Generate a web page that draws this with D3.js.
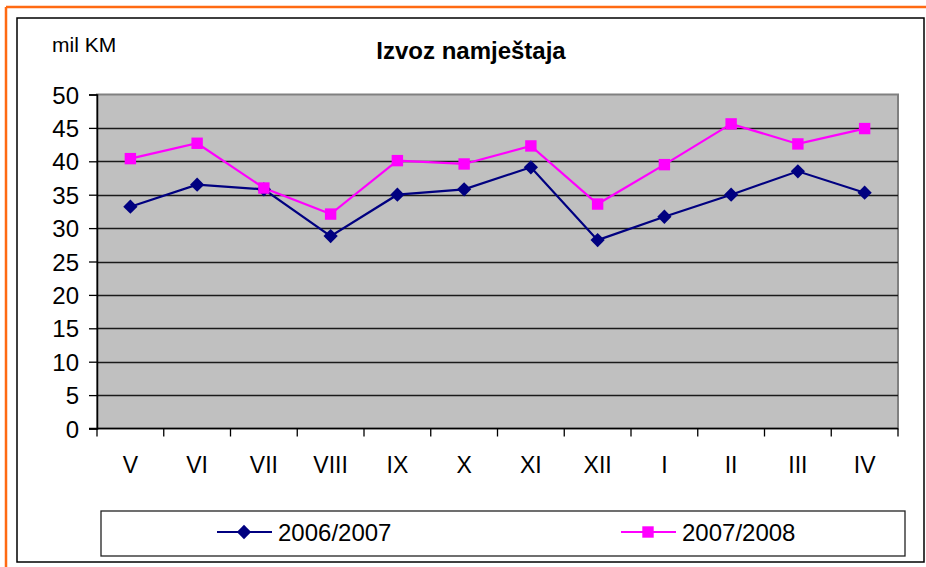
<!DOCTYPE html>
<html>
<head>
<meta charset="utf-8">
<script src="https://cdn.jsdelivr.net/npm/d3@7"></script>
<style>
  html, body { margin: 0; padding: 0; background: #fff; }
  svg { display: block; }
  text { font-family: "Liberation Sans", Arial, sans-serif; fill: #000; }
</style>
</head>
<body>
<svg id="chart" width="926" height="567"></svg>
<script>
const months = ["V", "VI", "VII", "VIII", "IX", "X", "XI", "XII", "I", "II", "III", "IV"];
const series2006 = [33.2, 36.5, 35.8, 28.8, 35.0, 35.8, 39.1, 28.2, 31.7, 35.0, 38.5, 35.3];
const series2007 = [40.4, 42.7, 36.0, 32.1, 40.1, 39.6, 42.3, 33.6, 39.5, 45.6, 42.6, 44.9];
const seriesNames = ["2006/2007", "2007/2008"];
const yTicks = [0, 5, 10, 15, 20, 25, 30, 35, 40, 45, 50];
const titleText = "Izvoz namještaja";
const unitText = "mil KM";

const svg = d3.select("#chart");

// orange outer frame (top and left visible)
svg.append("line").attr("x1", 6).attr("x2", 926).attr("y1", 7).attr("y2", 7)
  .attr("stroke", "#FF6A13").attr("stroke-width", 2.5);
svg.append("line").attr("x1", 6).attr("x2", 6).attr("y1", 7).attr("y2", 567)
  .attr("stroke", "#FF6A13").attr("stroke-width", 2.5);

// chart frame
svg.append("rect").attr("x", 17).attr("y", 18).attr("width", 907).attr("height", 544)
  .attr("fill", "#fff").attr("stroke", "#000").attr("stroke-width", 1.5);

const plot = { left: 97, right: 898, top: 94.5, bottom: 428.5 };

const x = d3.scaleBand().domain(months).range([plot.left, plot.right]).paddingInner(0).paddingOuter(0);
const y = d3.scaleLinear().domain([0, 50]).range([plot.bottom, plot.top]);

// plot background
svg.append("rect").attr("x", plot.left).attr("y", plot.top)
  .attr("width", plot.right - plot.left).attr("height", plot.bottom - plot.top)
  .attr("fill", "#C0C0C0").attr("stroke", "#808080").attr("stroke-width", 2);

// gridlines
svg.append("g").selectAll("line").data(yTicks.filter(d => d > 0 && d < 50)).join("line")
  .attr("x1", plot.left).attr("x2", plot.right)
  .attr("y1", d => Math.round(y(d)) + 0.5).attr("y2", d => Math.round(y(d)) + 0.5)
  .attr("stroke", "#1a1a1a").attr("stroke-width", 1.3);

// y axis
const yAxis = d3.axisLeft(y).tickValues(yTicks).tickSize(8).tickPadding(10);
const gy = svg.append("g").attr("transform", `translate(${plot.left},0)`).call(yAxis);
gy.select(".domain").attr("stroke", "#000").attr("stroke-width", 1.5);
gy.selectAll(".tick line").attr("stroke", "#000").attr("stroke-width", 1.3);
gy.selectAll(".tick text").style("font-size", "24px").style("font-family", "'Liberation Sans', Arial, sans-serif").attr("dy", "0.36em");

// x axis with ticks at category boundaries
const gx = svg.append("g").attr("transform", `translate(0,${plot.bottom})`);
gx.append("line").attr("x1", plot.left - 8).attr("x2", plot.right).attr("y1", 0).attr("y2", 0)
  .attr("stroke", "#000").attr("stroke-width", 1.5);
const boundaries = months.map(m => x(m)).concat([x(months[months.length - 1]) + x.bandwidth()]);
gx.selectAll("line.tk").data(boundaries).join("line").attr("class", "tk")
  .attr("x1", d => d).attr("x2", d => d).attr("y1", 0).attr("y2", 8)
  .attr("stroke", "#000").attr("stroke-width", 1.3);
gx.selectAll("text").data(months).join("text")
  .attr("x", d => x(d) + x.bandwidth() / 2).attr("y", 44)
  .attr("text-anchor", "middle").style("font-size", "23px").text(d => d);

// lines
const line = d3.line().x((d, i) => x(months[i]) + x.bandwidth() / 2).y(d => y(d));
svg.append("path").datum(series2006).attr("d", line)
  .attr("fill", "none").attr("stroke", "#000080").attr("stroke-width", 2.2);
svg.append("path").datum(series2007).attr("d", line)
  .attr("fill", "none").attr("stroke", "#FF00FF").attr("stroke-width", 2.2);

const diamond = d3.symbol().type(d3.symbolDiamond2).size(130);
const square = d3.symbol().type(d3.symbolSquare).size(130);

svg.append("g").selectAll("path").data(series2006).join("path")
  .attr("d", diamond)
  .attr("transform", (d, i) => `translate(${x(months[i]) + x.bandwidth() / 2},${y(d)})`)
  .attr("fill", "#000080");
svg.append("g").selectAll("path").data(series2007).join("path")
  .attr("d", square)
  .attr("transform", (d, i) => `translate(${x(months[i]) + x.bandwidth() / 2},${y(d)})`)
  .attr("fill", "#FF00FF");

// title and unit
svg.append("text").attr("x", 471).attr("y", 59).attr("text-anchor", "middle")
  .style("font-size", "24px").style("font-weight", "bold").text(titleText);
svg.append("text").attr("x", 52).attr("y", 52)
  .style("font-size", "21px").text(unitText);

// legend
svg.append("rect").attr("x", 101).attr("y", 511).attr("width", 804).attr("height", 45)
  .attr("fill", "#fff").attr("stroke", "#222").attr("stroke-width", 1.3);
const legendItems = [
  { name: seriesNames[0], color: "#000080", sym: diamond, x0: 217 },
  { name: seriesNames[1], color: "#FF00FF", sym: square, x0: 621 }
];
const lg = svg.append("g").selectAll("g").data(legendItems).join("g")
  .attr("transform", d => `translate(${d.x0},532)`);
lg.append("line").attr("x1", 0).attr("x2", 55).attr("y1", 0).attr("y2", 0)
  .attr("stroke", d => d.color).attr("stroke-width", 2.2);
lg.append("path").attr("d", d => d.sym()).attr("transform", "translate(27,0)").attr("fill", d => d.color);
lg.append("text").attr("x", 61).attr("y", 0).attr("dy", "0.36em")
  .style("font-size", "24px").text(d => d.name);
</script>
</body>
</html>
